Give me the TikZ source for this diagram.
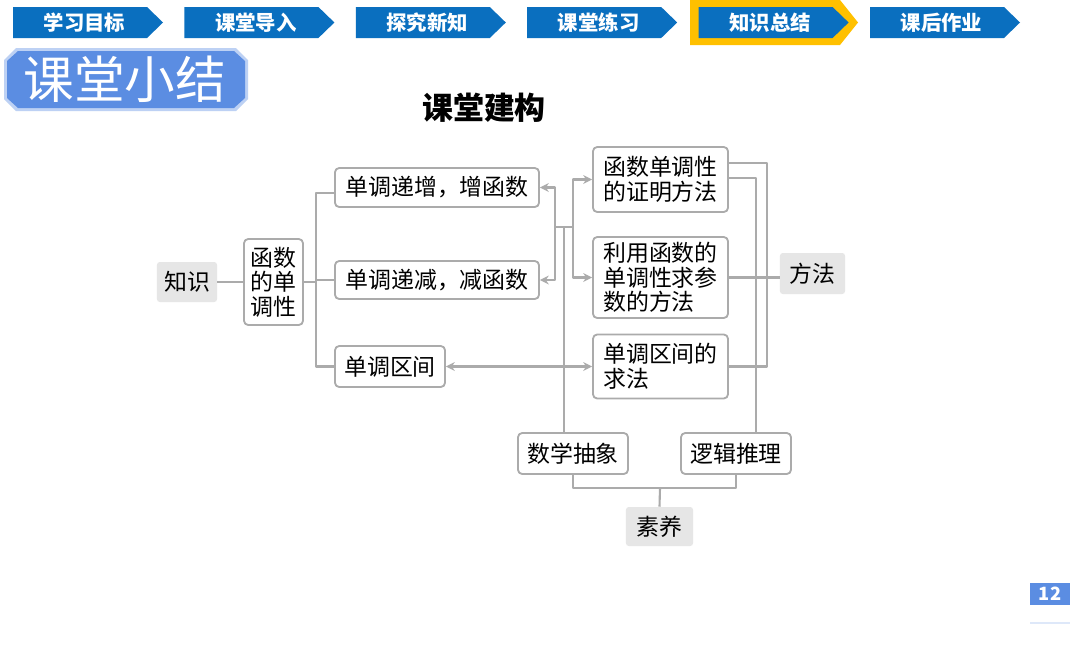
\documentclass[tikz,border=0pt]{standalone}
\usepackage{fontspec}
\setmainfont{Noto Sans CJK SC}
\usetikzlibrary{arrows.meta}
\definecolor{tabblue}{HTML}{0A6FBF}
\definecolor{tabgold}{HTML}{FFC000}
\definecolor{badgeblue}{HTML}{5B8DE2}
\definecolor{linegray}{HTML}{ABABAB}
\definecolor{boxgray}{HTML}{E6E6E6}
\newcommand\boxfont{\fontsize{16.3}{17.5}\selectfont}

\begin{document}
\begin{tikzpicture}[line join=round,>={Stealth[length=2.2mm,width=2.2mm]},x=0.025cm,y=-0.025cm,
	box/.style={draw=linegray,line width=1.3pt,rounded corners=3pt,fill=white,inner sep=2pt,font=\boxfont},
	gbox/.style={fill=boxgray,rounded corners=2pt,inner sep=2pt,font=\boxfont},
	conn/.style={draw=linegray,line width=1.5pt},
	tabtxt/.style={text=white,font=\bfseries\fontsize{14.5}{16}\selectfont}]
		\useasboundingbox[fill=white] (0,0) rectangle (1080,654);
		% tab row
		\fill[tabgold] (690,0) -- (840,0) -- (858,22.5) -- (840,45) -- (690,45) -- cycle;
		\foreach \t [count=\i from 0] in {学习目标,课堂导入,探究新知,课堂练习,知识总结,课后作业} {
			\pgfmathsetmacro{\tabx}{13+171.4*\i}
			\fill[tabblue] (\tabx,7) -- (\tabx+134,7) -- (\tabx+150,22.5) -- (\tabx+134,38) -- (\tabx,38) -- cycle;
			\node[tabtxt] (tab\i) at (\tabx+71.5,22.5) {\t};
		}
		% badge
		\fill[badgeblue!40] (4,60) -- (16,48) -- (236,48) -- (248,60) -- (248,99) -- (236,111) -- (16,111) -- (4,99) -- cycle;
		\fill[badgeblue] (7,61) -- (18,51) -- (234,51) -- (245,61) -- (245,98) -- (234,108) -- (18,108) -- (7,98) -- cycle;
		\node[text=white,font=\fontsize{36}{40}\selectfont] (badge) at (125,79) {课堂小结};
		\node[font=\bfseries\fontsize{22}{26}\selectfont] (title) at (484,108) {课堂建构};
		% nodes
		\node[gbox,minimum width=1.5cm,minimum height=1cm] (zs) at (187,282) {知识};
		\node[box,align=center,minimum width=1.475cm,minimum height=2.15cm] (hs) at (273.5,282) {函数\\的单\\调性};
		\node[box,minimum width=5.1cm,minimum height=0.975cm] (inc) at (437,187.5) {单调递增，增函数};
		\node[box,minimum width=5.1cm,minimum height=0.95cm] (dec) at (437,280) {单调递减，减函数};
		\node[box,minimum width=2.75cm,minimum height=1.025cm] (itv) at (390,366.5) {单调区间};
		\node[box,align=left,minimum width=3.375cm,minimum height=1.625cm] (prf) at (660.5,179.5) {函数单调性\\的证明方法};
		\node[box,align=left,minimum width=3.375cm,minimum height=2.025cm] (par) at (660.5,277.5) {利用函数的\\单调性求参\\数的方法};
		\node[box,align=left,minimum width=3.375cm,minimum height=1.6cm] (sol) at (660.5,366.5) {单调区间的\\求法};
		\node[gbox,minimum width=1.625cm,minimum height=1.025cm] (ff) at (812.5,273.5) {方法};
		\node[box,minimum width=2.75cm,minimum height=1.025cm] (abs) at (573,453.5) {数学抽象};
		\node[box,minimum width=2.75cm,minimum height=1.025cm] (lgc) at (736,453.5) {逻辑推理};
		\node[gbox,minimum width=1.675cm,minimum height=0.975cm] (sy) at (659.5,526.5) {素养};
		% junctions
		\coordinate (hsj) at (316,282);
		\coordinate (lj) at (555,227);
		\coordinate (aj) at (564,227);
		\coordinate (rj) at (573,227);
		\coordinate (ftop) at (767,163);
		\coordinate (fbot) at (767,366.5);
		\coordinate (lgj) at (756,178);
		\coordinate (syj) at (660,488);
		% connectors
		\draw[conn] (zs) -- (hs);
		\draw[conn] (hs.east) -- (hsj);
		\draw[conn] (hsj) |- ([yshift=-0.13cm]inc.west);
		\foreach \n in {dec,itv} \draw[conn] (hsj) |- (\n.west);
		\draw[conn,->] (rj) -- (lj) |- (inc.east);
		\draw[conn,->] (lj) |- (dec.east);
		\draw[conn,->] (lj) -- (rj) |- (prf.west);
		\draw[conn,->] (rj) |- (par.west);
		\draw[conn] (aj) -- (aj |- abs.north);
		\draw[conn,<->] (itv.east) -- (sol.west);
		\draw[conn] (prf.east |- ftop) -- (ftop) -- (fbot) -- (sol.east);
		\draw[conn] (par.east) -- (ff.west |- par.east);
		\draw[conn] (prf.east |- lgj) -- (lgj) -- (lgj |- lgc.north);
		\draw[conn] (abs.south) |- (syj) -| (lgc.south);
		\draw[conn] (syj) -- (sy.north);
		% page number
		\node[fill=badgeblue,text=white,font=\bfseries\fontsize{13}{14}\selectfont,minimum width=1cm,minimum height=0.55cm,inner sep=0pt] (pg) at (1050,593.5) {12};
		\draw[badgeblue!20,line width=2pt] (1030,623) -- (1070,623);
	\end{tikzpicture}
\end{document}
